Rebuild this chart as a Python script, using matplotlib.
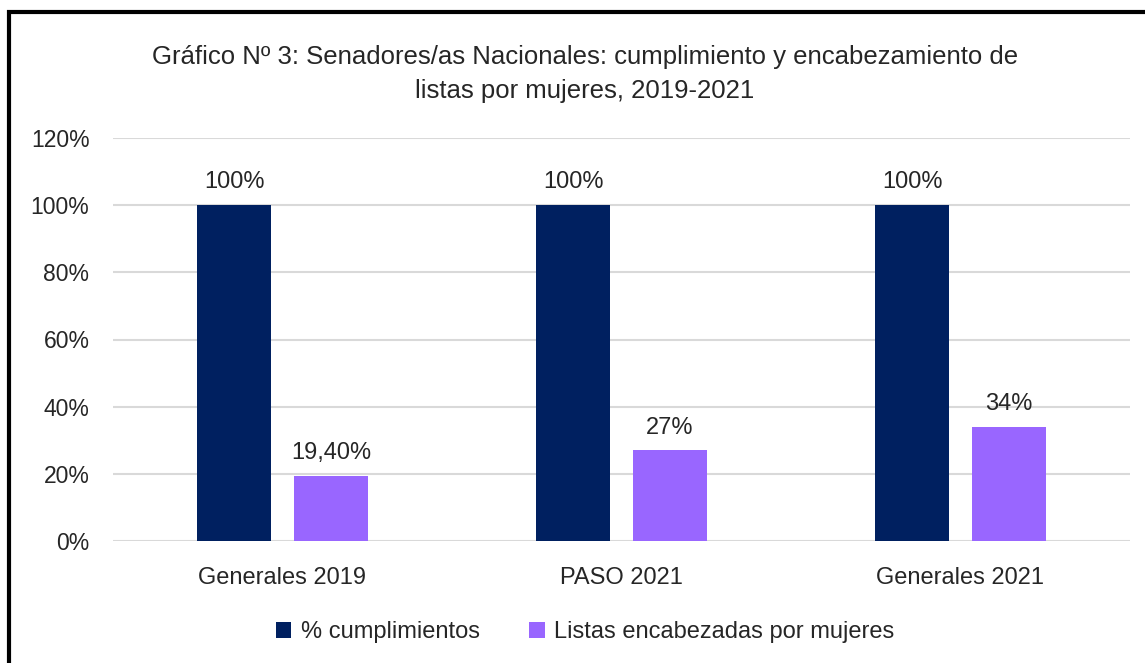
import matplotlib.pyplot as plt
import numpy as np
from matplotlib.patches import Rectangle

plt.rcParams['font.family'] = ['Liberation Sans', 'DejaVu Sans']

# datos
categorias = ['Generales 2019', 'PASO 2021', 'Generales 2021']
cumplimientos = [100, 100, 100]
encabezadas = [19.4, 27, 34]
etq_cumpl = ['100%', '100%', '100%']
etq_encab = ['19,40%', '27%', '34%']
series = ['% cumplimientos', 'Listas encabezadas por mujeres']

azul = '#002060'
violeta = '#9966FF'
texto = '#262626'

fig = plt.figure(figsize=(11.45, 6.63), dpi=100)
ax = fig.add_axes([113 / 1145, 1 - 541 / 663, (1130 - 113) / 1145, (541 - 138) / 663])

x = np.arange(len(categorias))
ancho = 0.22
b1 = ax.bar(x - 0.143, cumplimientos, ancho, color=azul, label=series[0], zorder=3)
b2 = ax.bar(x + 0.143, encabezadas, ancho, color=violeta, label=series[1], zorder=3)

for rect, t in zip(b1, etq_cumpl):
    ax.text(rect.get_x() + rect.get_width() / 2, rect.get_height() + 3.5, t,
            ha='center', va='bottom', fontsize=17, color=texto)
for rect, t in zip(b2, etq_encab):
    ax.text(rect.get_x() + rect.get_width() / 2, rect.get_height() + 3.5, t,
            ha='center', va='bottom', fontsize=17, color=texto)

ax.set_xlim(-0.5, 2.5)
ax.set_ylim(0, 120)
ax.set_yticks(range(0, 121, 20))
ax.set_yticklabels([f'{v}%' for v in range(0, 121, 20)])
ax.set_xticks(x)
ax.set_xticklabels(categorias)
ax.tick_params(length=0, labelsize=17, colors=texto)
ax.tick_params(axis='x', pad=19)
ax.tick_params(axis='y', labelsize=16.5, pad=17)
ax.grid(axis='y', color='#D9D9D9', linewidth=1.5, zorder=0)
for s in ax.spines.values():
    s.set_visible(False)

fig.text(585 / 1145, 1 - 74 / 663,
         'Gráfico Nº 3: Senadores/as Nacionales: cumplimiento y encabezamiento de\nlistas por mujeres, 2019-2021',
         ha='center', va='center', fontsize=18.5, color=texto, linespacing=1.5)

fig.legend(loc='center', bbox_to_anchor=(585 / 1145, 1 - 632 / 663), ncol=2,
           frameon=False, fontsize=17, handlelength=0.65, handleheight=0.65,
           handletextpad=0.4, columnspacing=2.1, labelcolor=texto)

# marco
fig.patches.append(Rectangle((9 / 1145, -0.1), 1.2, 1.1 - 12 / 663, transform=fig.transFigure,
                             fill=False, edgecolor='black', linewidth=3, clip_on=False))

fig.savefig('out.png', dpi=100)
